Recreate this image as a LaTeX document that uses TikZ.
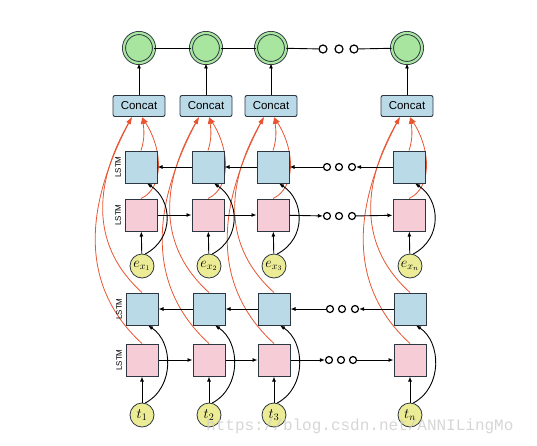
\documentclass[tikz,border=0pt]{standalone}
\usepackage{fontspec}
\newfontfamily\hv{Liberation Sans}
\newfontfamily\wm{Liberation Mono}
\usetikzlibrary{arrows.meta,calc,backgrounds}
\definecolor{lblue}{RGB}{186,218,232}
\definecolor{pinkc}{RGB}{246,204,214}
\definecolor{grn}{RGB}{168,230,160}
\definecolor{yel}{RGB}{236,236,150}
\definecolor{redc}{RGB}{232,85,50}
\definecolor{bordc}{RGB}{45,55,65}
\tikzset{
  lstmbox/.style={draw=bordc, line width=1pt, minimum size=32pt, inner sep=0pt},
  bbox/.style={lstmbox, fill=lblue},
  pbox/.style={lstmbox, fill=pinkc},
  outc/.style={circle, draw=bordc, fill=grn, double=grn, double distance=2.2pt, line width=0.9pt, minimum size=30pt, inner sep=0pt},
  dotc/.style={circle, draw=black, line width=1.2pt, fill=white, minimum size=7pt, inner sep=0pt},
  bigdot/.style={dotc, minimum size=8pt},
  inc/.style={circle, draw=bordc, line width=0.8pt, fill=yel, minimum size=24pt, inner sep=0pt, font=\fontsize{14}{14}\selectfont},
  cbox/.style={draw=bordc, line width=0.9pt, rounded corners=2pt, fill=lblue, minimum width=52pt, minimum height=21pt, inner sep=0pt, font=\hv\fontsize{11.5}{11.5}\selectfont},
  lab/.style={rotate=90, font=\hv\fontsize{8}{8}\selectfont, inner sep=0pt},
  arr/.style={-{Latex[length=5pt,width=4pt]}, line width=0.9pt, draw=black},
  rarr/.style={draw=redc, line width=0.8pt, -{Latex[length=7pt,width=5pt]}},
  plain/.style={line width=0.9pt, draw=black}
}
\begin{document}
\begin{tikzpicture}[x=1pt,y=-1pt]
\useasboundingbox (0,0) rectangle (537,445);
% columns
\foreach \i/\X/\el/\tl in {1/141/{e_{x_1}}/{t_1},2/208/{e_{x_2}}/{t_2},3/273/{e_{x_3}}/{t_3},4/409/{e_{x_n}}/{t_n}}{
  \node[outc] (c\i) at (\X-2,48) {};
  \node[cbox] (cc\i) at (\X-2,106) {Concat};
  \node[bbox] (ub\i) at (\X,167) {};
  \node[pbox] (up\i) at (\X,215) {};
  \node[inc] (e\i) at (\X+1,266) {$\el$};
  \node[bbox] (lb\i) at (\X+1,309) {};
  \node[pbox] (lp\i) at (\X+1,360) {};
  \node[inc] (t\i) at (\X+1,415) {$\tl$};
  \coordinate (ca\i) at ($(cc\i.south)+(-7,0)$);
  \coordinate (cb\i) at ($(cc\i.south)+(3,0)$);
  \draw[arr] (cc\i) -- (c\i);
  \draw[arr] (e\i) -- (up\i);
  \draw[arr] (t\i) -- (lp\i);
  \draw[arr] (e\i.75) .. controls +(30,-16) and +(25,16) .. (ub\i.-70);
  \draw[arr] (t\i.75) .. controls +(30,-16) and +(25,16) .. (lb\i.-70);
  \begin{pgfonlayer}{background}
    \draw[rarr] (ub\i.north) .. controls +(4,-12) and +(2,12) .. (cb\i);
    \draw[rarr] (up\i.north) .. controls +(22,-10) and +(22,35) .. (cb\i);
    \draw[rarr] (lb\i.north) .. controls +(-50,-45) and +(-40,70) .. (ca\i);
    \draw[rarr] (lp\i.north) .. controls +(-60,-55) and +(-50,95) .. (ca\i);
  \end{pgfonlayer}
}
% LSTM labels
\node[lab] (l1) at (118,167) {LSTM};
\node[lab] (l2) at (118,215) {LSTM};
\node[lab] (l3) at (119,309) {LSTM};
\node[lab] (l4) at (119,360) {LSTM};
% dots
\node[bigdot] (td1) at (323,49) {};
\node[bigdot] (td2) at (339,49) {};
\node[bigdot] (td3) at (354,49) {};
\node[dotc] (ubd1) at (327,167) {};
\node[dotc] (ubd2) at (339,167) {};
\node[dotc] (ubd3) at (352,167) {};
\node[dotc] (upd1) at (327,216) {};
\node[dotc] (upd2) at (339,216) {};
\node[dotc] (upd3) at (352,216) {};
\node[dotc] (lbd1) at (330,309) {};
\node[dotc] (lbd2) at (342,309) {};
\node[dotc] (lbd3) at (355,309) {};
\node[dotc] (lpd1) at (329,360) {};
\node[dotc] (lpd2) at (341,360) {};
\node[dotc] (lpd3) at (353,360) {};
% top line
\draw[plain] (c1) -- (c2);
\draw[plain] (c2) -- (c3);
\draw[plain] (c3) -- (td1);
\draw[plain] (td3) -- (c4);
% backward rows
\draw[arr] (ub2) -- (ub1);
\draw[arr] (ub3) -- (ub2);
\draw[arr] (ubd1) -- (ub3);
\draw[arr] (ub4) -- (ubd3);
\draw[arr] (lb2) -- (lb1);
\draw[arr] (lb3) -- (lb2);
\draw[arr] (lbd1) -- (lb3);
\draw[arr] (lb4) -- (lbd3);
% forward rows
\draw[arr] (up1) -- (up2);
\draw[arr] (up2) -- (up3);
\draw[arr] (up3) -- (upd1);
\draw[arr] (upd3) -- (up4);
\draw[arr] (lp1) -- (lp2);
\draw[arr] (lp2) -- (lp3);
\draw[arr] (lp3) -- (lpd1);
\draw[arr] (lpd3) -- (lp4);
% watermark
\node[anchor=west, text=gray!40, opacity=0.8, font=\wm\fontsize{16}{16}\selectfont, inner sep=0pt] (wm) at (206,426) {https://blog.csdn.net/ANNILingMo};
\end{tikzpicture}
\end{document}
